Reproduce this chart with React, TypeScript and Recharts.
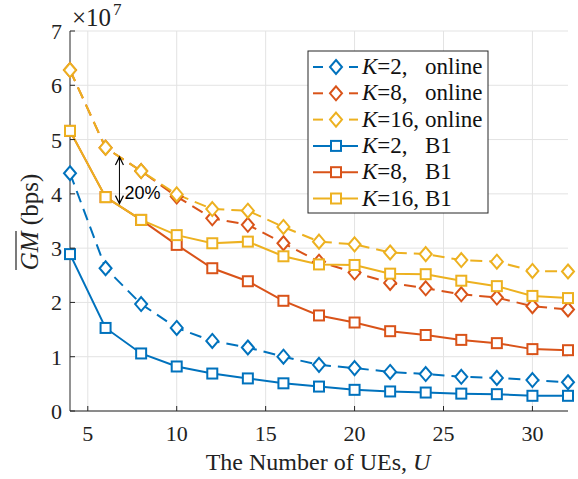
import React from "react";
import {
  LineChart,
  Line,
  XAxis,
  YAxis,
  CartesianGrid,
  ReferenceLine,
} from "recharts";

// values in units of 1e7 bps
const users = [4, 6, 8, 10, 12, 14, 16, 18, 20, 22, 24, 26, 28, 30, 32];
const k2Online = [4.38, 2.63, 1.97, 1.53, 1.29, 1.17, 1.0, 0.85, 0.79, 0.72, 0.68, 0.63, 0.61, 0.57, 0.53];
const k8Online = [6.28, 4.85, 4.42, 3.95, 3.55, 3.43, 3.09, 2.75, 2.55, 2.36, 2.26, 2.15, 2.09, 1.93, 1.87];
const k16Online = [6.28, 4.85, 4.42, 3.99, 3.72, 3.69, 3.39, 3.12, 3.07, 2.92, 2.89, 2.78, 2.75, 2.58, 2.57];
const k2B1 = [2.89, 1.53, 1.06, 0.82, 0.69, 0.6, 0.51, 0.45, 0.39, 0.36, 0.34, 0.32, 0.31, 0.28, 0.28];
const k8B1 = [5.16, 3.94, 3.52, 3.06, 2.63, 2.39, 2.03, 1.76, 1.63, 1.47, 1.4, 1.31, 1.25, 1.14, 1.12];
const k16B1 = [5.16, 3.94, 3.52, 3.24, 3.09, 3.12, 2.85, 2.7, 2.69, 2.53, 2.52, 2.4, 2.3, 2.12, 2.08];

const xTicks = [5, 10, 15, 20, 25, 30];
const yTicks = [0, 1, 2, 3, 4, 5, 6, 7];

const BLUE = "#0072BD";
const ORANGE = "#D95319";
const YELLOW = "#EDB120";
const SERIF = "Liberation Serif, Times New Roman, DejaVu Serif, serif";
const AXIS = "#262626";
const serif = (size: number) => ({ fontFamily: SERIF, fontSize: size });

const data = users.map((u, i) => ({
  u,
  k2o: k2Online[i],
  k8o: k8Online[i],
  k16o: k16Online[i],
  k2b: k2B1[i],
  k8b: k8B1[i],
  k16b: k16B1[i],
}));

const series = [
  { key: "k2o", color: BLUE, dashed: true, k: "2," },
  { key: "k8o", color: ORANGE, dashed: true, k: "8," },
  { key: "k16o", color: YELLOW, dashed: true, k: "16," },
  { key: "k2b", color: BLUE, dashed: false, k: "2," },
  { key: "k8b", color: ORANGE, dashed: false, k: "8," },
  { key: "k16b", color: YELLOW, dashed: false, k: "16," },
];

const Diamond = ({ cx, cy, color }: any) => (
  <path
    d={`M${cx},${cy - 7} L${cx + 6},${cy} L${cx},${cy + 7} L${cx - 6},${cy} Z`}
    fill="#fff"
    stroke={color}
    strokeWidth={2}
  />
);

const Square = ({ cx, cy, color }: any) => (
  <rect x={cx - 5} y={cy - 5} width={10} height={10} fill="#fff" stroke={color} strokeWidth={2} />
);

const makeDot = (color: string, dashed: boolean) => (p: any) => {
  if (p.cx == null || p.cy == null) return <g key={p.index} />;
  return dashed ? (
    <Diamond key={p.index} cx={p.cx} cy={p.cy} color={color} />
  ) : (
    <Square key={p.index} cx={p.cx} cy={p.cy} color={color} />
  );
};

const BottomTick = ({ x, y, payload }: any) => (
  <g>
    <line x1={x} y1={y} x2={x} y2={y - 5} stroke={AXIS} />
    <text x={x} y={y + 30} textAnchor="middle" style={serif(22)} fill="#222">
      {payload.value}
    </text>
  </g>
);

const TopTick = ({ x, y }: any) => <line x1={x} y1={y} x2={x} y2={y + 5} stroke={AXIS} />;

const LeftTick = ({ x, y, payload }: any) => (
  <g>
    <line x1={x} y1={y} x2={x + 5} y2={y} stroke={AXIS} />
    <text x={x - 8} y={y + 8} textAnchor="end" style={serif(22)} fill="#222">
      {payload.value}
    </text>
  </g>
);

const RightTick = ({ x, y }: any) => <line x1={x} y1={y} x2={x - 5} y2={y} stroke={AXIS} />;

const GapArrow = (props: any) => {
  const { x1, y1, y2 } = props;
  const top = Math.min(y1, y2);
  const bot = Math.max(y1, y2);
  return (
    <g>
      <line x1={x1} y1={top + 1} x2={x1} y2={bot - 1} stroke="#000" strokeWidth={1} />
      <path d={`M${x1 - 4},${top + 8} L${x1},${top} L${x1 + 4},${top + 8}`} fill="none" stroke="#000" strokeWidth={1.2} />
      <path d={`M${x1 - 4},${bot - 8} L${x1},${bot} L${x1 + 4},${bot - 8}`} fill="none" stroke="#000" strokeWidth={1.2} />
      <text
        x={x1 + 5}
        y={bot - 5}
        style={{ fontFamily: "Liberation Sans, Arial, sans-serif", fontSize: 18 }}
        fill="#000"
      >
        20%
      </text>
    </g>
  );
};

const Legend = () => {
  const rows = series.map((s, i) => {
    const cy = 67 + i * 26.3;
    return (
      <g key={s.key}>
        {s.dashed ? (
          <>
            <line x1={313} y1={cy} x2={323} y2={cy} stroke={s.color} strokeWidth={2} />
            <line x1={349} y1={cy} x2={358} y2={cy} stroke={s.color} strokeWidth={2} />
            <Diamond cx={336} cy={cy} color={s.color} />
          </>
        ) : (
          <>
            <line x1={313} y1={cy} x2={358} y2={cy} stroke={s.color} strokeWidth={2} />
            <Square cx={336} cy={cy} color={s.color} />
          </>
        )}
        <text x={362} y={cy + 7} style={serif(23)} fill="#111">
          <tspan fontStyle="italic">K</tspan>={s.k}
        </text>
        <text x={425} y={cy + 7} style={serif(23)} fill="#111">
          {s.dashed ? "online" : "B1"}
        </text>
      </g>
    );
  });
  return (
    <g>
      <rect x={308} y={51} width={180} height={162} fill="#fff" stroke={AXIS} strokeWidth={1} />
      {rows}
    </g>
  );
};

export default function App() {
  return (
    <div style={{ position: "absolute", left: 0, top: 0, width: 578, height: 479, background: "#fff" }}>
      <LineChart
        width={578}
        height={479}
        data={data}
        margin={{ top: 31, right: 10, bottom: 38, left: 10 }}
      >
        <CartesianGrid stroke="#e3e3e3" strokeWidth={1} verticalValues={xTicks} horizontalValues={yTicks} />
        <XAxis
          dataKey="u"
          type="number"
          domain={[4, 32]}
          ticks={xTicks}
          height={30}
          tickSize={0}
          tickMargin={0}
          tickLine={false}
          stroke={AXIS}
          tick={<BottomTick />}
          interval={0}
        />
        <XAxis
          xAxisId="top"
          orientation="top"
          dataKey="u"
          type="number"
          domain={[4, 32]}
          ticks={xTicks}
          height={0}
          tickSize={0}
          tickMargin={0}
          tickLine={false}
          stroke={AXIS}
          tick={<TopTick />}
          interval={0}
        />
        <YAxis
          type="number"
          domain={[0, 7]}
          ticks={yTicks}
          width={60}
          tickSize={0}
          tickMargin={0}
          tickLine={false}
          stroke={AXIS}
          tick={<LeftTick />}
          interval={0}
        />
        <YAxis
          yAxisId="right"
          orientation="right"
          type="number"
          domain={[0, 7]}
          ticks={yTicks}
          width={0}
          tickSize={0}
          tickMargin={0}
          tickLine={false}
          stroke={AXIS}
          tick={<RightTick />}
          interval={0}
        />
        {series.map((s) => (
          <Line
            key={s.key}
            dataKey={s.key}
            stroke={s.color}
            strokeWidth={2}
            strokeDasharray={s.dashed ? "12 7" : undefined}
            dot={makeDot(s.color, s.dashed)}
            activeDot={false}
            isAnimationActive={false}
          />
        ))}
        <ReferenceLine
          segment={[
            { x: 6.78, y: 4.68 },
            { x: 6.78, y: 3.82 },
          ]}
          shape={<GapArrow />}
        />
      </LineChart>
      <svg
        width={578}
        height={479}
        style={{ position: "absolute", left: 0, top: 0, pointerEvents: "none" }}
      >
        <Legend />
        <text x={72} y={26} style={serif(25)} fill="#222">
          ×10
        </text>
        <text x={113} y={15} style={serif(17)} fill="#222">
          7
        </text>
        <g transform="translate(38,222) rotate(-90)">
          <text x={0} y={0} textAnchor="middle" style={serif(25)} fill="#222">
            <tspan fontStyle="italic">GM</tspan>
            <tspan> (bps)</tspan>
          </text>
          <line x1={-48} y1={-22} x2={-9} y2={-22} stroke="#222" strokeWidth={1.2} />
        </g>
        <text x={318} y={470} textAnchor="middle" style={serif(24)} fill="#222">
          The Number of UEs, <tspan fontStyle="italic">U</tspan>
        </text>
      </svg>
    </div>
  );
}
